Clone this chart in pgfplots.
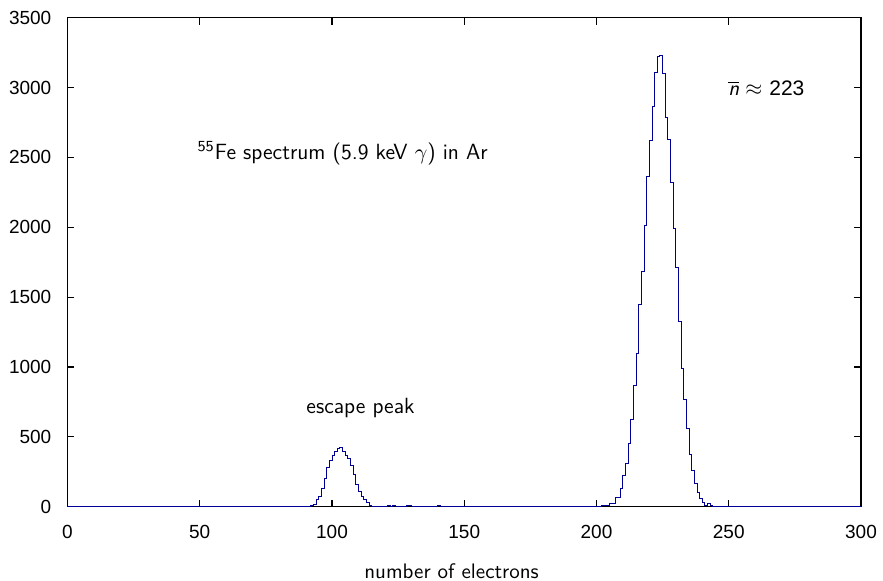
\documentclass[border=0pt]{standalone}
\usepackage{fontspec}
\usepackage{pgfplots}
\pgfplotsset{compat=1.18}
\newfontfamily\tickfont{Liberation Sans}
\definecolor{histblue}{RGB}{0,0,150}
\begin{document}
\begin{tikzpicture}
\useasboundingbox (-33.75pt,-37.15pt) rectangle (407.75pt,253.35pt);
\begin{axis}[
  scale only axis,
  width=396.75pt, height=244.5pt,
  xmin=0, xmax=300, ymin=0, ymax=3500,
  xtick={0,50,...,300},
  ytick={0,500,...,3500},
  tick align=inside,
  major tick length=3.5pt,
  axis line style={line width=0.65pt},
  every tick/.style={black, line width=0.6pt},
  /pgf/number format/assume math mode=true,
  /pgf/number format/1000 sep={},
  tick label style={font=\tickfont\fontsize{9.5}{11}\selectfont, inner sep=0pt},
  xticklabel style={anchor=north, yshift=-9.2pt},
  yticklabel style={anchor=east, xshift=-7.9pt},
  clip=false,
]
\addplot[const plot mark left, histblue, line width=0.5pt] coordinates {
(0,0) (92,5) (93,19) (94,52) (95,72) (96,131) (97,203) (98,282) (99,334)
(100,363) (101,394) (102,418) (103,425) (104,398) (105,363) (106,346)
(107,298) (108,227) (109,162) (110,107) (111,72) (112,52) (113,29) (114,10)
(115,0) (118,3) (119,0) (121,5) (122,0) (123,6) (124,0) (126,4) (127,0)
(128,5) (130,0) (133,3) (134,0) (138,4) (139,0) (140,5) (141,0) (152,3)
(153,0) (155,4) (157,0) (160,3) (161,0) (175,3) (176,0) (188,3) (189,0)
(198,3) (199,0) (202,5) (203,8) (204,10) (205,21) (206,21) (207,64) (208,64)
(209,130) (210,224) (211,308) (212,451) (213,623) (214,864) (215,1095)
(216,1446) (217,1684) (218,2014) (219,2365) (220,2622) (221,2861)
(222,3111) (223,3219) (224,3228) (225,3099) (226,2789) (227,2629)
(228,2317) (229,1990) (230,1711) (231,1322) (232,988) (233,766) (234,558)
(235,372) (236,260) (237,165) (238,105) (239,57) (240,33) (241,10)
(242,26) (243,10) (244,0) (300,0)
};
\node[anchor=west, inner sep=0pt, font=\sffamily\fontsize{11}{13}\selectfont]
  at (axis cs:49,2530) {\textsuperscript{55}Fe spectrum (5.9 keV $\gamma$) in Ar};
\node[anchor=west, inner sep=0pt, font=\sffamily\fontsize{10.5}{12}\selectfont]
  at (axis cs:249.7,2997) {$\overline{\textit{n}}\approx$ {\tickfont 223}};
\node[anchor=west, inner sep=0pt, font=\sffamily\fontsize{11}{13}\selectfont]
  at (axis cs:90.2,707) {escape peak};
\node[inner sep=0pt, font=\sffamily\fontsize{10.5}{12}\selectfont]
  at (rel axis cs:0.484,0) [yshift=-32.2pt] {number of electrons};
\end{axis}
\end{tikzpicture}
\end{document}
